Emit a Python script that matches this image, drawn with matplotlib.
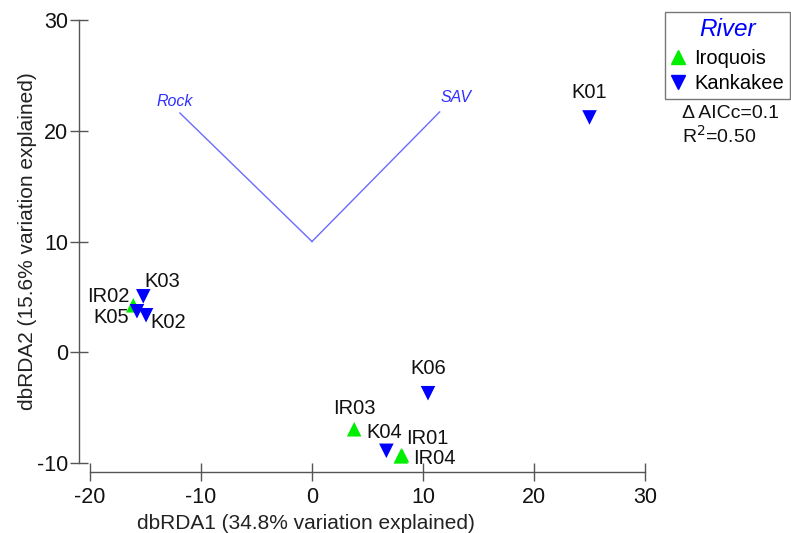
import matplotlib
matplotlib.use("Agg")
import matplotlib.pyplot as plt
from matplotlib.lines import Line2D

plt.rcParams['font.family'] = ['Liberation Sans', 'DejaVu Sans']
plt.rcParams['axes.unicode_minus'] = False

# Site scores
sites = ["K01", "K06", "IR03", "K04", "IR01", "IR04", "K03", "IR02", "K05", "K02"]
rivers = ["Kankakee", "Kankakee", "Iroquois", "Kankakee", "Iroquois", "Iroquois",
          "Kankakee", "Iroquois", "Kankakee", "Kankakee"]
dbrda1 = [25.0, 10.45, 3.8, 6.7, 8.1, 8.0, -15.2, -16.1, -15.77, -14.95]
dbrda2 = [21.2, -3.7, -6.95, -8.9, -9.3, -9.4, 5.05, 4.24, 3.7, 3.34]

# Vectors (origin at (0,10))
vec_names = ["Rock", "SAV"]
vec_origin = (0.0, 10.0)
vec_x = [-11.9, 11.5]
vec_y = [21.6, 21.7]

river_names = ["Iroquois", "Kankakee"]
river_colors = {"Iroquois": "#00ee00", "Kankakee": "#0000ff"}
river_markers = {"Iroquois": "^", "Kankakee": "v"}

xticks = [-20, -10, 0, 10, 20, 30]
yticks = [-10, 0, 10, 20, 30]

fig = plt.figure(figsize=(7.91, 5.33), dpi=100)
W, H = 791, 533
left, right, top, bottom = 90, 645, 20, 463
ax = fig.add_axes([left / W, 1 - bottom / H, (right - left) / W, (bottom - top) / H])
ax.set_xlim(-20, 30)
ax.set_ylim(-10, 30)

for r in river_names:
    xs = [x for x, rv in zip(dbrda1, rivers) if rv == r]
    ys = [y for y, rv in zip(dbrda2, rivers) if rv == r]
    ax.scatter(xs, ys, marker=river_markers[r], s=110, color=river_colors[r],
               edgecolors='none', clip_on=False, zorder=3)

# label offsets in points (dx, dy), centred text
offsets = {"K01": (0, 18), "K06": (0, 18), "IR03": (0, 15),
           "K04": (-1.5, 13), "IR01": (18, 12), "IR04": (24.5, -1.5),
           "K03": (13.3, 10.8), "IR02": (-18, 6.5), "K05": (-18.7, -4.3),
           "K02": (16, -5)}
for s, x, y in zip(sites, dbrda1, dbrda2):
    dx, dy = offsets[s]
    ax.annotate(s, (x, y), xytext=(dx, dy), textcoords='offset points',
                ha='center', va='center', fontsize=14.5, color='#111111', zorder=4)

vec_color = '#6a6aff'
vec_label_off = {"Rock": (-3.6, 8), "SAV": (11.5, 10.5)}
for n, vx, vy in zip(vec_names, vec_x, vec_y):
    ax.plot([vec_origin[0], vx], [vec_origin[1], vy], color=vec_color, lw=1.0, zorder=2)
    ax.annotate(n, (vx, vy), xytext=vec_label_off[n], textcoords='offset points',
                ha='center', va='center', fontsize=11.5, style='italic', color='#3030ff')

for sp in ['top', 'right']:
    ax.spines[sp].set_visible(False)
ax.spines['left'].set_position(('outward', 8))
ax.spines['bottom'].set_position(('outward', 6.5))
for sp in ['left', 'bottom']:
    ax.spines[sp].set_color('#555555')
    ax.spines[sp].set_linewidth(1.0)
ax.set_xticks(xticks)
ax.set_yticks(yticks)
ax.tick_params(direction='inout', length=13, width=1.0, color='#555555',
               labelsize=15.5, labelcolor='#111111')
ax.tick_params(axis='x', pad=4)
ax.tick_params(axis='y', pad=1)

ax.set_xlabel("dbRDA1 (34.8% variation explained)", fontsize=15, color='#222222', labelpad=2)
ax.xaxis.set_label_coords((306 - left) / (right - left), -0.115)
ax.set_ylabel("dbRDA2 (15.6% variation explained)", fontsize=15, color='#222222', labelpad=0)

handles = [Line2D([], [], marker=river_markers[r], color=river_colors[r], linestyle='none',
                  markersize=10) for r in river_names]
leg = fig.legend(handles, river_names, title="River", loc='upper left',
                 bbox_to_anchor=(665 / W, 1 - 12 / H), fontsize=14.5,
                 frameon=True, fancybox=False, borderpad=0.3, handletextpad=0.45,
                 handlelength=0.7, labelspacing=0.3, borderaxespad=0)
leg.get_frame().set_edgecolor('#555555')
leg.get_frame().set_linewidth(1.0)
leg.get_title().set_fontsize(17.5)
leg.get_title().set_style('italic')
leg.get_title().set_color('#0000ff')
leg._legend_box.sep = 6

fig.text(682 / W, 1 - 113 / H, "Δ AICc=0.1", fontsize=14, va='center', ha='left', color='#111111')
fig.text(682 / W, 1 - 136 / H, "R$^2$=0.50", fontsize=14, va='center', ha='left', color='#111111')

fig.savefig("out.png", dpi=100)
